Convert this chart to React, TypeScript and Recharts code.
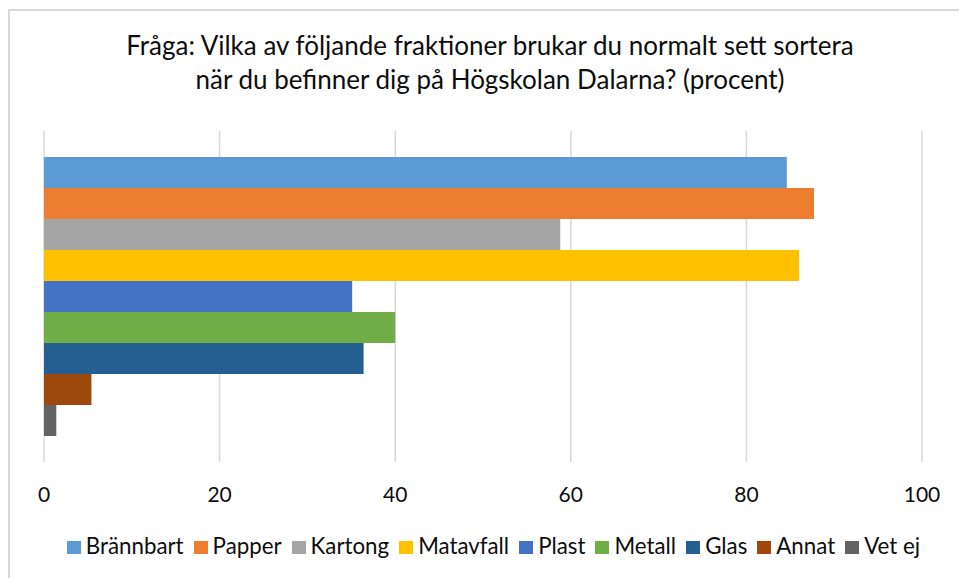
import React from 'react';
import { BarChart, Bar, XAxis, YAxis, CartesianGrid, Legend } from 'recharts';

const categories = ['Högskolan Dalarna'];
const seriesNames = ['Brännbart', 'Papper', 'Kartong', 'Matavfall', 'Plast', 'Metall', 'Glas', 'Annat', 'Vet ej'];
const seriesValues = [84.6, 87.7, 58.8, 86.0, 35.1, 40.0, 36.4, 5.4, 1.4];
const seriesColors = ['#5B9BD5', '#ED7D31', '#A5A5A5', '#FFC000', '#4472C4', '#70AD47', '#255E91', '#9E480E', '#636363'];
const xTicks = [0, 20, 40, 60, 80, 100];

const titleLines = [
  'Fråga: Vilka av följande fraktioner brukar du normalt sett sortera',
  'när du befinner dig på Högskolan Dalarna? (procent)',
];

// one row, one key per series
const data = categories.map((name) => {
  const row: Record<string, any> = { name };
  seriesNames.forEach((s, i) => { row[s] = seriesValues[i]; });
  return row;
});

const FONT = 'Lato, "Open Sans", sans-serif';

const renderLegend = () => (
  <div style={{ display: 'flex', justifyContent: 'center', fontFamily: FONT, fontSize: 22.3, lineHeight: '30px', color: '#0d0d0d' }}>
    {seriesNames.map((s, i) => (
      <div key={s} style={{ display: 'flex', alignItems: 'center', marginRight: i === seriesNames.length - 1 ? 0 : 10 }}>
        <span style={{ display: 'inline-block', width: 14, height: 13, background: seriesColors[i], marginRight: 5, marginTop: 2 }} />
        <span>{s}</span>
      </div>
    ))}
  </div>
);

export default function App() {
  return (
    <div style={{ position: 'relative', width: 959, height: 578, overflow: 'hidden', background: '#fff' }}>
      <style>{`body{margin:0;overflow:hidden}`}</style>
      {/* chart frame, only top and left edges are visible */}
      <div style={{ position: 'absolute', left: 8, top: 9, width: 1100, height: 700, border: '2px solid #d9d9d9', boxSizing: 'border-box' }} />
      <div style={{ position: 'absolute', left: 0, top: 28, width: 980, textAlign: 'center', fontFamily: FONT, fontSize: 26, lineHeight: '34px', color: '#0d0d0d' }}>
        {titleLines.map((l) => <div key={l}>{l}</div>)}
      </div>
      <div style={{ position: 'absolute', left: 0, top: 0 }}>
        <BarChart
          width={959}
          height={578}
          data={data}
          layout="vertical"
          margin={{ top: 131, right: 37, bottom: 76, left: 44 }}
          barCategoryGap={26}
          barGap={0}
        >
          <CartesianGrid horizontal={false} stroke="#d9d9d9" strokeWidth={1.5} />
          <XAxis
            type="number"
            domain={[0, 100]}
            ticks={xTicks}
            axisLine={false}
            tickLine={false}
            tickSize={0}
            tickMargin={25}
            height={40}
            tick={{ fill: '#0d0d0d', fontFamily: FONT, fontSize: 21 }}
          />
          <YAxis type="category" dataKey="name" hide />
          <Legend
            verticalAlign="middle"
            content={renderLegend}
            wrapperStyle={{ top: 531, left: 0, width: 987 }}
          />
          {seriesNames.map((s, i) => (
            <Bar key={s} dataKey={s} fill={seriesColors[i]} isAnimationActive={false} />
          ))}
        </BarChart>
      </div>
    </div>
  );
}
